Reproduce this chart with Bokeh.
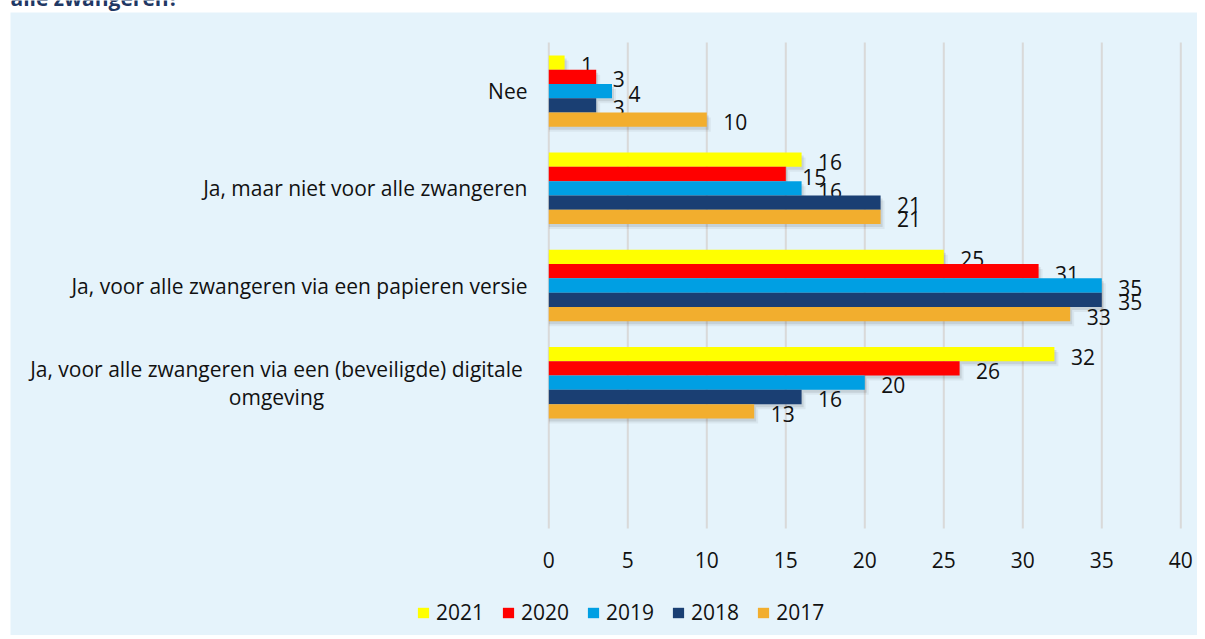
from bokeh.plotting import figure
from bokeh.models import ColumnDataSource, Label, Legend, LegendItem, Range1d, BoxAnnotation
from bokeh.core.properties import value
from bokeh.embed import file_html
from bokeh.resources import INLINE

# ---- data ----
title_text = "alle zwangeren?"
categories = [
    "Nee",
    "Ja, maar niet voor alle zwangeren",
    "Ja, voor alle zwangeren via een papieren versie",
    "Ja, voor alle zwangeren via een (beveiligde) digitale\nomgeving",
]
years = ["2021", "2020", "2019", "2018", "2017"]
v2021 = [1, 16, 25, 32]
v2020 = [3, 15, 31, 26]
v2019 = [4, 16, 35, 20]
v2018 = [3, 21, 35, 16]
v2017 = [10, 21, 33, 13]
x_ticks = [0, 5, 10, 15, 20, 25, 30, 35, 40]

series = [v2021, v2020, v2019, v2018, v2017]
colors = ["#FFFF00", "#FF0000", "#009FE3", "#1A3F73", "#F2AE2E"]

FONT = "Open Sans"
FS = "21px"
BG = "#E5F3FB"
TXT = "#111111"

# ---- layout (canvas pixels) ----
W, H = 1197, 635
X0 = 548.3          # canvas x of value 0
PXX = 15.8          # pixels per unit
FT, FB = 42.0, 528.0  # top / bottom of the plotting area (canvas y)
n_slots = len(categories) + 1
PXY = (FB - FT) / n_slots

def dx(sx):  # canvas x -> data x
    return (sx - X0) / PXX

def dy(sy):  # canvas y -> data y
    return n_slots - (sy - FT) / PXY

p = figure(width=W, height=H, x_range=Range1d(dx(0), dx(W)), y_range=Range1d(dy(H), dy(0)),
           output_backend="svg", toolbar_location=None,
           min_border=0, min_border_left=0, min_border_right=0, min_border_top=0, min_border_bottom=0)
p.xaxis.visible = False
p.yaxis.visible = False
p.xgrid.visible = False
p.ygrid.visible = False
p.border_fill_color = "white"
p.background_fill_color = "white"
p.outline_line_color = None

# light blue chart panel
p.add_layout(BoxAnnotation(left=dx(10), right=dx(W + 5), top=dy(12), bottom=dy(H + 5),
                           fill_color=BG, fill_alpha=1, line_color=None, level="underlay"))

# cut-off title at top
p.add_layout(Label(x=dx(10), y=dy(-3), text=title_text, text_align="left",
                   text_baseline="alphabetic", text_font=FONT, text_font_size="21px",
                   text_font_style="bold", text_color="#1F3864"))

# vertical gridlines at the ticks
p.segment(x0=x_ticks, x1=x_ticks, y0=0, y1=n_slots, line_color="#D9D9D9", line_width=2)

# tick labels
p.text(x=x_ticks, y=dy(559), text=[str(t) for t in x_ticks], text_align="center",
       text_baseline="middle", text_font=value(FONT), text_font_size=FS, text_color=TXT)

centers = [n_slots - 0.5 - i for i in range(len(categories))]
bar_h = 0.147

# shadows
for k, vals in enumerate(series):
    ys = [c + (2 - k) * bar_h for c in centers]
    for ox, oy, a in [(4, 5, 0.05), (2, 3, 0.09)]:
        p.hbar(y=[y - oy / PXY for y in ys], left=0, right=[v + ox / PXX for v in vals],
               height=bar_h, fill_color="black", fill_alpha=a, line_color=None)

renderers = []
for k, (yr, vals, col) in enumerate(zip(years, series, colors)):
    ys = [c + (2 - k) * bar_h for c in centers]
    src = ColumnDataSource(dict(y=ys, ly=[y - 2.5 / PXY for y in ys], v=vals,
                                t=[str(v) for v in vals]))
    r = p.hbar(y="y", left=0, right="v", height=bar_h, source=src,
               fill_color=col, line_color=None)
    renderers.append((yr, r))
    p.text(x="v", y="ly", text="t", source=src, x_offset=16.5,
           text_align="left", text_baseline="middle", text_font=value(FONT),
           text_font_size=FS, text_color=TXT)

# category labels
for c, lab in zip(centers, categories):
    if "\n" in lab:
        p.add_layout(Label(x=dx(276), y=c, text=lab, text_align="center",
                           text_baseline="middle", text_font=FONT, text_font_size=FS,
                           text_color=TXT, text_line_height=1.0))
    else:
        p.add_layout(Label(x=dx(527), y=c, text=lab, text_align="right",
                           text_baseline="middle", text_font=FONT, text_font_size=FS,
                           text_color=TXT))

legend = Legend(items=[LegendItem(label=yr, renderers=[r]) for yr, r in renderers],
                orientation="horizontal", location=(416, 9),
                glyph_width=14, glyph_height=13, label_standoff=6, spacing=17,
                padding=0, margin=0, border_line_color=None, background_fill_alpha=0,
                label_text_font=FONT, label_text_font_size=FS, label_text_color=TXT)
p.add_layout(legend, "center")

open("out.html", "w").write(file_html(p, INLINE))
